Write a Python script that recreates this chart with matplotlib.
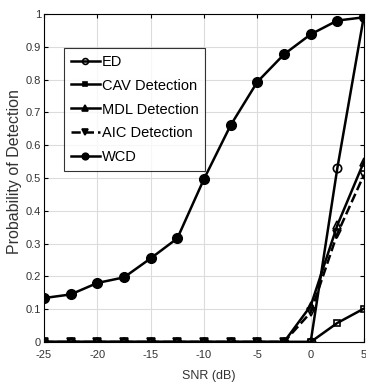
import matplotlib
matplotlib.use("Agg")
import matplotlib.pyplot as plt

snr = [-25, -22.5, -20, -17.5, -15, -12.5, -10, -7.5, -5, -2.5, 0, 2.5, 5]
ed = [0, 0, 0, 0, 0, 0, 0, 0, 0, 0, 0, 0.53, 0.995]
cav = [0, 0, 0, 0, 0, 0, 0, 0, 0, 0, 0, 0.058, 0.102]
mdl = [0, 0, 0, 0, 0, 0, 0, 0, 0, 0, 0.11, 0.356, 0.55]
aic = [0, 0, 0, 0, 0, 0, 0, 0, 0, 0, 0.09, 0.33, 0.51]
wcd = [0.134, 0.145, 0.18, 0.197, 0.255, 0.316, 0.497, 0.661, 0.793, 0.877, 0.938, 0.98, 0.99]
xticks = [-25, -20, -15, -10, -5, 0, 5]
yticks = [0, 0.1, 0.2, 0.3, 0.4, 0.5, 0.6, 0.7, 0.8, 0.9, 1]
ytick_labels = ["0", "0.1", "0.2", "0.3", "0.4", "0.5", "0.6", "0.7", "0.8", "0.9", "1"]

plt.rcParams['font.family'] = ['Liberation Sans', 'DejaVu Sans']
txtc = '#333333'

fig = plt.figure(figsize=(3.66, 3.83), dpi=100)
ax = fig.add_axes([44/366, 1-342/383, 320/366, 328/383])

lw = 1.8
ax.plot(snr, ed, '-', color='k', lw=lw, marker='o', ms=6, mfc='none', mew=1.2, label='ED', zorder=3)
ax.plot(snr, cav, '-', color='k', lw=lw, marker='s', ms=5, mfc='none', mew=1.2, label='CAV Detection', zorder=3)
ax.plot(snr, mdl, '-', color='k', lw=lw, marker='^', ms=6, mfc='none', mew=1.2, label='MDL Detection', zorder=3)
ax.plot(snr, aic, '--', color='k', lw=lw, marker='v', ms=6, mfc='none', mew=1.2, label='AIC Detection', zorder=3)
ax.plot(snr, wcd, '-', color='k', lw=lw, marker='o', ms=7, mfc='k', label='WCD', zorder=3)

ax.set_xlim(-25, 5)
ax.set_ylim(0, 1)
ax.set_xticks(xticks)
ax.set_xticklabels([str(t) for t in xticks])
ax.set_yticks(yticks)
ax.set_yticklabels(ytick_labels)
ax.grid(True, color='#dcdcdc', lw=0.8)
ax.set_axisbelow(True)
ax.tick_params(direction='in', top=True, right=True, labelsize=8, length=3,
               labelcolor=txtc)
ax.tick_params(axis='x', pad=6)
ax.tick_params(axis='y', pad=2)
for s in ax.spines.values():
    s.set_linewidth(0.8)
ax.set_xlabel('SNR (dB)', fontsize=9, color=txtc)
ax.xaxis.set_label_coords(0.514, -0.085)
ax.set_ylabel('Probability of Detection', fontsize=11.5, color=txtc)
ax.yaxis.set_label_coords(-0.07, 0.52)

leg = ax.legend(loc='upper left', bbox_to_anchor=(0.063, 0.896), frameon=True,
                prop={'size': 10.5},
                fancybox=False, edgecolor='k', handlelength=2.0, handletextpad=0.15,
                borderpad=0.45, labelspacing=0.68, markerscale=0.7, borderaxespad=0)
leg.get_frame().set_linewidth(0.8)
for h in leg.legend_handles:
    if h.get_label() != 'ED':
        h.set_markerfacecolor('k')

fig.savefig('out.png', dpi=100)
